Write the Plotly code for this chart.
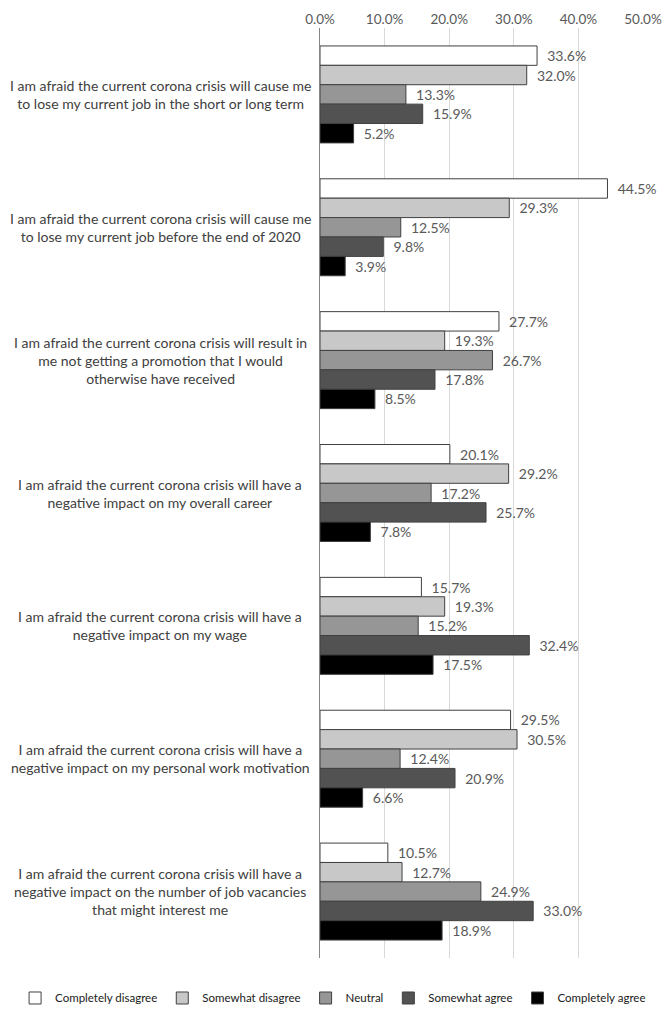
import plotly.graph_objects as go

categories = [
    "I am afraid the current corona crisis will cause me<br>to lose my current job in the short or long term",
    "I am afraid the current corona crisis will cause me<br>to lose my current job before the end of 2020",
    "I am afraid the current corona crisis will result in<br>me not getting a promotion that I would<br>otherwise have received",
    "I am afraid the current corona crisis will have a<br>negative impact on my overall career",
    "I am afraid the current corona crisis will have a<br>negative impact on my wage",
    "I am afraid the current corona crisis will have a<br>negative impact on my personal work motivation",
    "I am afraid the current corona crisis will have a<br>negative impact on the number of job vacancies<br>that might interest me",
]

completely_disagree = [33.6, 44.5, 27.7, 20.1, 15.7, 29.5, 10.5]
somewhat_disagree = [32.0, 29.3, 19.3, 29.2, 19.3, 30.5, 12.7]
neutral = [13.3, 12.5, 26.7, 17.2, 15.2, 12.4, 24.9]
somewhat_agree = [15.9, 9.8, 17.8, 25.7, 32.4, 20.9, 33.0]
completely_agree = [5.2, 3.9, 8.5, 7.8, 17.5, 6.6, 18.9]

series_names = ["Completely disagree", "Somewhat disagree", "Neutral", "Somewhat agree", "Completely agree"]
series_values = [completely_disagree, somewhat_disagree, neutral, somewhat_agree, completely_agree]
series_colors = ["#ffffff", "#c8c8c8", "#969696", "#525252", "#000000"]

tick_vals = [0, 10, 20, 30, 40, 50]
tick_text = ["0.0%", "10.0%", "20.0%", "30.0%", "40.0%", "50.0%"]

FONT = "Lato"
TEXT_COLOR = "#595959"

fig = go.Figure()
for name, vals, col in zip(series_names, series_values, series_colors):
    fig.add_trace(go.Bar(
        y=categories, x=vals, name=name, orientation="h",
        marker=dict(color=col, line=dict(color="#404040", width=1)),
        text=[f"\u00a0\u00a0{v:.1f}%" for v in vals], textposition="outside",
        textfont=dict(family=FONT, size=14, color=TEXT_COLOR),
        cliponaxis=False, hoverinfo="skip",
    ))

for i, cat in enumerate(categories):
    fig.add_annotation(
        x=-0.495, xref="paper", y=cat, yref="y", text=cat, showarrow=False,
        xanchor="center", yanchor="middle", align="center",
        font=dict(family=FONT, size=14, color="#404040"),
    )

fig.update_layout(
    template="none",
    width=666, height=1011,
    margin=dict(l=320, r=23, t=28, b=53, autoexpand=False),
    barmode="group", bargap=0.27, bargroupgap=0,
    plot_bgcolor="white", paper_bgcolor="white",
    font=dict(family=FONT, size=13, color=TEXT_COLOR),
    showlegend=True,
    legend=dict(orientation="h", x=-0.944, xref="paper", xanchor="left",
                y=-0.043, yanchor="middle", itemwidth=30,
                font=dict(family=FONT, size=11.5, color="#202020")),
    xaxis=dict(side="top", range=[0, 50], tickvals=tick_vals, ticktext=tick_text, automargin=False,
               showgrid=True, gridcolor="#d9d9d9", gridwidth=1, zeroline=False,
               showline=False, ticks="", tickfont=dict(family=FONT, size=13.5, color=TEXT_COLOR)),
    yaxis=dict(type="category", autorange="reversed", showticklabels=False, ticks="", showgrid=False,
               automargin=False, showline=True, linecolor="#868686", linewidth=1),
)

fig.write_html("out.html", config={"displayModeBar": False},
               post_script="document.body.style.margin='0';")
